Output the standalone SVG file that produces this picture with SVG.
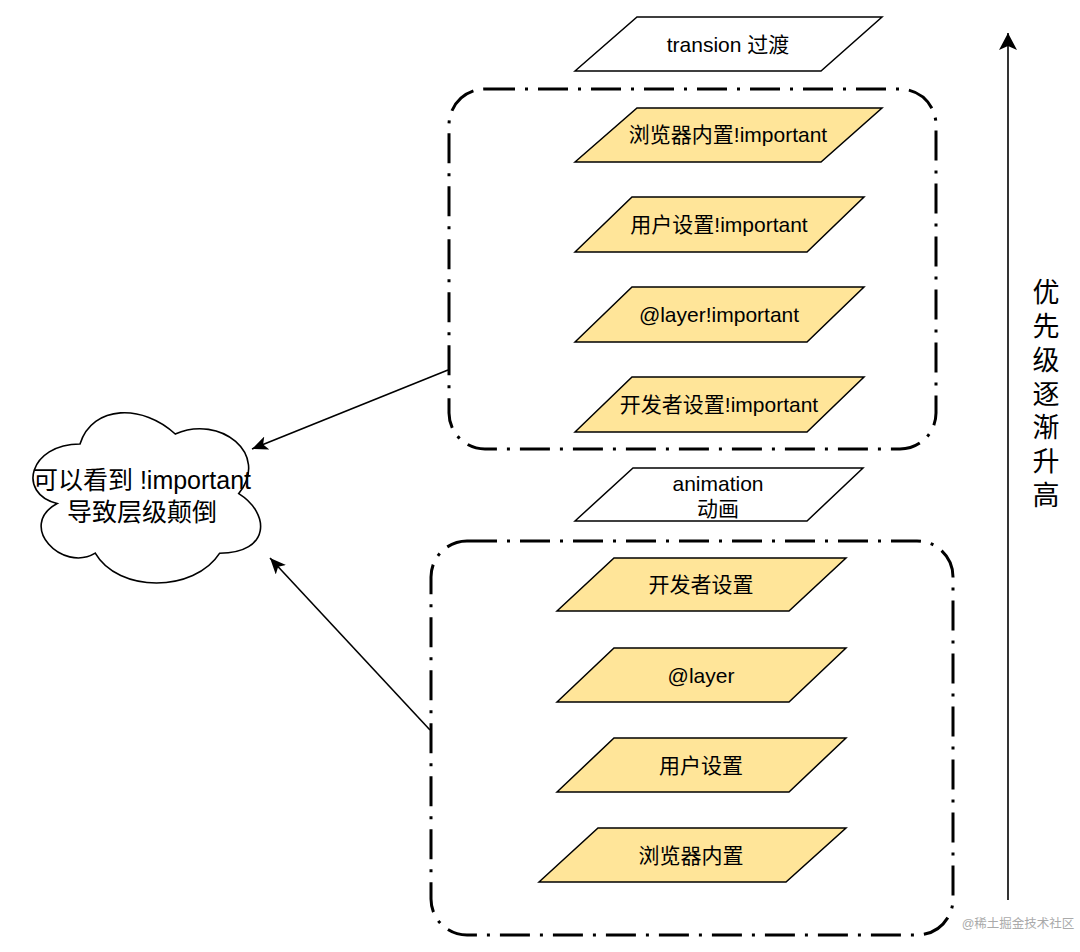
<svg xmlns="http://www.w3.org/2000/svg" width="1080" height="952" viewBox="0 0 1080 952">
<style>
.t{font-family:"Liberation Sans","Noto Sans CJK SC",sans-serif;fill:#000;text-anchor:middle;dominant-baseline:central}
.p{stroke:#000;stroke-width:1.5;stroke-linejoin:miter}
.y{fill:#FFE599}
.w{fill:#fff}
.box{fill:none;stroke:#000;stroke-width:3;stroke-dasharray:30 10 3 10}
.c{stroke:#000;stroke-width:1.6;fill:none}
</style>
<defs>
<marker id="ah" markerUnits="userSpaceOnUse" markerWidth="18" markerHeight="14" refX="16" refY="7" orient="auto" viewBox="0 0 18 14">
<path d="M0,0 L16,7 L0,14 L4,7 z" fill="#000"/>
</marker>
<marker id="ah2" markerUnits="userSpaceOnUse" markerWidth="20" markerHeight="18" refX="17" refY="9" orient="auto" viewBox="0 0 20 18">
<path d="M0,0 L17,9 L0,18 L4,9 z" fill="#000"/>
</marker>
</defs>
<rect width="1080" height="952" fill="#fff"/>

<g id="group-important">
<rect class="box" x="449" y="89" width="487" height="360" rx="36" ry="36"/>
</g>
<g id="group-normal">
<rect class="box" x="431" y="541" width="522" height="394" rx="36" ry="36"/>
</g>

<g id="n-transition">
<polygon class="p w" points="575,71 637,17 882,17 821,71"/>
<text class="t" x="728" y="44" font-size="21">transion 过渡</text>
</g>
<g id="n-browser-important">
<polygon class="p y" points="575,162 637,108 882,108 821,162"/>
<text class="t" x="728" y="134" font-size="21">浏览器内置!important</text>
</g>
<g id="n-user-important">
<polygon class="p y" points="575,252 632,197 864,197 807,252"/>
<text class="t" x="719" y="224" font-size="21">用户设置!important</text>
</g>
<g id="n-layer-important">
<polygon class="p y" points="575,342 632,287 864,287 807,342"/>
<text class="t" x="719" y="314" font-size="21">@layer!important</text>
</g>
<g id="n-dev-important">
<polygon class="p y" points="575,432 632,377 864,377 807,432"/>
<text class="t" x="719" y="404" font-size="21">开发者设置!important</text>
</g>
<g id="n-animation">
<polygon class="p w" points="575,521 633,468 863,468 807,521"/>
<text class="t" x="718" y="483" font-size="21">animation</text>
<text class="t" x="718" y="508" font-size="21">动画</text>
</g>
<g id="n-dev">
<polygon class="p y" points="557,611 614,558 846,558 789,611"/>
<text class="t" x="701" y="584" font-size="21">开发者设置</text>
</g>
<g id="n-layer">
<polygon class="p y" points="557,702 614,648 846,648 789,702"/>
<text class="t" x="701" y="675" font-size="21">@layer</text>
</g>
<g id="n-user">
<polygon class="p y" points="557,792 614,738 846,738 789,792"/>
<text class="t" x="701" y="765" font-size="21">用户设置</text>
</g>
<g id="n-browser">
<polygon class="p y" points="539,882 598,828 846,828 786,882"/>
<text class="t" x="691" y="855" font-size="21">浏览器内置</text>
</g>

<g id="n-cloud">
<path transform="translate(16.5,394.3) scale(254,198.6)" vector-effect="non-scaling-stroke" fill="#fff" stroke="#000" stroke-width="1.6" d="M0.25,0.25 C0.05,0.25 0,0.5 0.16,0.55 C0,0.66 0.18,0.9 0.31,0.8 C0.4,1 0.7,1 0.8,0.8 C1,0.8 1,0.6 0.875,0.5 C1,0.3 0.8,0.1 0.625,0.2 C0.5,0.05 0.3,0.05 0.25,0.25 Z"/>
<text class="t" x="142" y="480" font-size="25">可以看到 !important</text>
<text class="t" x="142" y="512" font-size="25">导致层级颠倒</text>
</g>

<g id="n-priority">
<text class="t" x="1046" y="293" font-size="27">优</text>
<text class="t" x="1046" y="327" font-size="27">先</text>
<text class="t" x="1046" y="361" font-size="27">级</text>
<text class="t" x="1046" y="395" font-size="27">逐</text>
<text class="t" x="1046" y="428" font-size="27">渐</text>
<text class="t" x="1046" y="462" font-size="27">升</text>
<text class="t" x="1046" y="496" font-size="27">高</text>
</g>

<g id="connectors">
<line class="c" x1="448" y1="370" x2="252" y2="449" marker-end="url(#ah)"/>
<line class="c" x1="430" y1="730" x2="270" y2="558" marker-end="url(#ah)"/>
<line class="c" x1="1008" y1="900" x2="1008" y2="33" stroke-width="2" marker-end="url(#ah2)"/>
</g>

<text x="1018" y="924" font-size="12.5" fill="#aaa" text-anchor="middle" dominant-baseline="central" font-family="Liberation Sans,Noto Sans CJK SC,sans-serif">@稀土掘金技术社区</text>
</svg>
